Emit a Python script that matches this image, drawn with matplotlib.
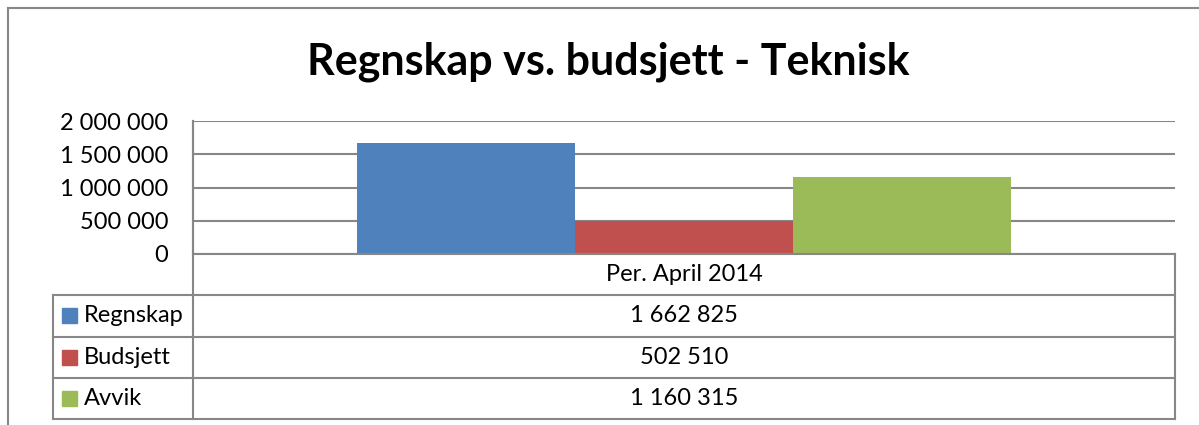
import matplotlib.pyplot as plt
from matplotlib.ticker import FuncFormatter

# Datos
series = ['Regnskap', 'Budsjett', 'Avvik']
values = [1662825, 502510, 1160315]
category = 'Per. April 2014'
colors = ['#4F81BD', '#C0504D', '#9BBB59']
title = 'Regnskap vs. budsjett - Teknisk'

W, H = 1199, 425
plt.rcParams['font.family'] = ['Lato', 'DejaVu Sans']

fig = plt.figure(figsize=(W / 100, H / 100), dpi=100)
fig.patch.set_facecolor('white')

grey = '#878787'
lw = 1.5

# Ejes del grafico de barras (coordenadas en pixeles)
left, right, top, bottom = 193, 1175, 121, 254
ax = fig.add_axes([left / W, 1 - bottom / H, (right - left) / W, (bottom - top) / H])

bar_w = 218 / (right - left)
for i, (name, v, c) in enumerate(zip(series, values, colors)):
    ax.bar((i - 1) * bar_w, v, width=bar_w, color=c, zorder=2)

ax.set_xlim(-0.5, 0.5)
ax.set_ylim(0, 2000000)
ax.set_yticks([0, 500000, 1000000, 1500000, 2000000])
ax.yaxis.set_major_formatter(FuncFormatter(lambda v, p: f'{int(v):,}'.replace(',', ' ')))
ax.tick_params(axis='y', length=0, pad=18, labelsize=17, labelcolor='black')
ax.set_xticks([])
ax.grid(axis='y', color=grey, linewidth=lw, zorder=0)
for s in ['top', 'right', 'bottom']:
    ax.spines[s].set_visible(False)
ax.spines['left'].set_color(grey)
ax.spines['left'].set_linewidth(lw)

# Capa superior para la tabla y el marco
ov = fig.add_axes([0, 0, 1, 1], zorder=5)
ov.set_xlim(0, W)
ov.set_ylim(H, 0)
ov.axis('off')
ov.patch.set_alpha(0)

# Marco exterior
ov.plot([8, 8], [8, H], color=grey, lw=lw, clip_on=False)
ov.plot([8, W], [8, 8], color=grey, lw=lw, clip_on=False)

# Tabla de datos
rows_y = [254, 294.5, 336.5, 378, 419]
ov.plot([left, left], [top, rows_y[-1]], color=grey, lw=lw)
ov.plot([right, right], [rows_y[0], rows_y[-1]], color=grey, lw=lw)
ov.plot([53, 53], [rows_y[1], rows_y[-1]], color=grey, lw=lw)
ov.plot([left, right], [rows_y[0], rows_y[0]], color=grey, lw=lw)
for y in rows_y[1:]:
    ov.plot([53, right], [y, y], color=grey, lw=lw)

cx = (left + right) / 2
ov.text(cx, (rows_y[0] + rows_y[1]) / 2, category, ha='center', va='center', fontsize=17)
for i, (name, v, c) in enumerate(zip(series, values, colors)):
    yc = (rows_y[i + 1] + rows_y[i + 2]) / 2
    ov.add_patch(plt.Rectangle((62, yc - 7.5), 15, 15, color=c))
    ov.text(84, yc, name, ha='left', va='center', fontsize=17)
    ov.text(cx, yc, f'{v:,}'.replace(',', ' '), ha='center', va='center', fontsize=17)

# Titulo
ov.text(608, 74, title, ha='center', va='baseline', fontsize=31, fontweight='bold')

fig.savefig('out.png', dpi=100)
